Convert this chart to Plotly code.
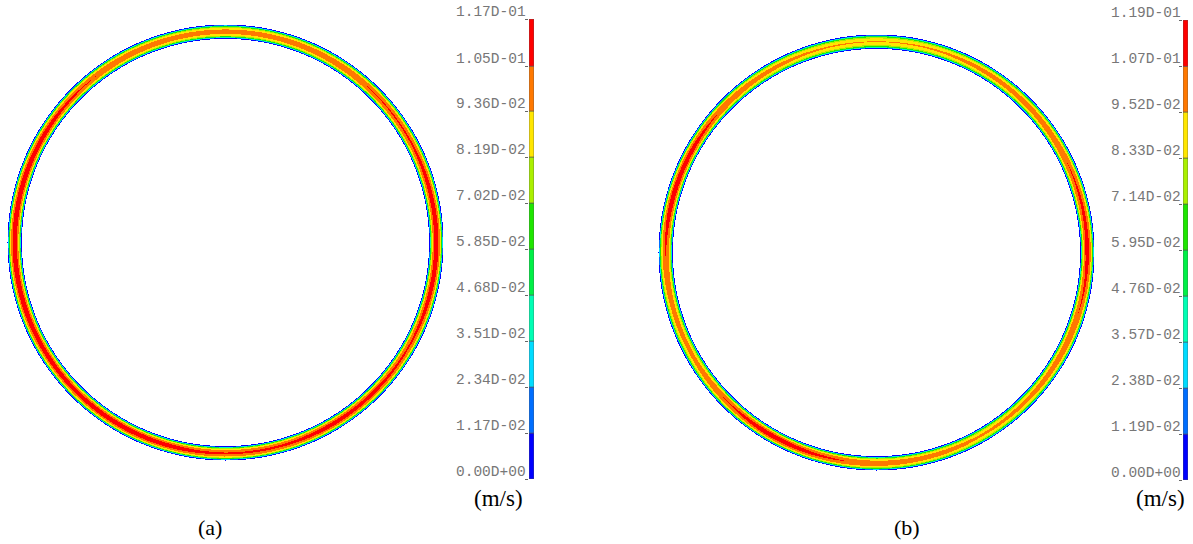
import numpy as np
import plotly.graph_objects as go

# ---------------- data ----------------
levels_a = [0.0, 0.0117, 0.0234, 0.0351, 0.0468, 0.0585, 0.0702, 0.0819, 0.0936, 0.105, 0.117]
labels_a = ["0.00D+00", "1.17D-02", "2.34D-02", "3.51D-02", "4.68D-02", "5.85D-02",
            "7.02D-02", "8.19D-02", "9.36D-02", "1.05D-01", "1.17D-01"]
levels_b = [0.0, 0.0119, 0.0238, 0.0357, 0.0476, 0.0595, 0.0714, 0.0833, 0.0952, 0.107, 0.119]
labels_b = ["0.00D+00", "1.19D-02", "2.38D-02", "3.57D-02", "4.76D-02", "5.95D-02",
            "7.14D-02", "8.33D-02", "9.52D-02", "1.07D-01", "1.19D-01"]
band_colors = ["rgb(0,0,255)", "rgb(0,110,255)", "rgb(0,220,255)", "rgb(0,255,180)",
               "rgb(0,240,70)", "rgb(30,230,0)", "rgb(170,240,0)", "rgb(255,230,0)",
               "rgb(255,120,0)", "rgb(255,0,0)"]

# peak (mid-gap) velocity around the ring, angle in degrees CCW from +x
theta_deg = [0, 15, 30, 45, 60, 75, 90, 105, 120, 135, 150, 165,
             180, 195, 210, 225, 240, 255, 270, 285, 300, 315, 330, 345]
peak_a = [0.112, 0.110, 0.107, 0.106, 0.103, 0.101, 0.100, 0.101, 0.103, 0.107, 0.111, 0.112,
          0.112, 0.112, 0.111, 0.110, 0.112, 0.110, 0.107, 0.108, 0.110, 0.109, 0.107, 0.110]
peak_b = [0.112, 0.110, 0.106, 0.102, 0.100, 0.097, 0.096, 0.097, 0.100, 0.106, 0.112, 0.114,
          0.108, 0.102, 0.100, 0.108, 0.114, 0.110, 0.104, 0.102, 0.098, 0.100, 0.104, 0.108]

# velocity profile across the annular gap (0 = inner wall, 1 = outer wall), fraction of peak
gap_pos = [0, 0.05, 0.08, 0.12, 0.17, 0.22, 0.29, 0.37, 0.5, 0.63, 0.71, 0.78, 0.83, 0.88, 0.92, 0.95, 1.0]
gap_frac = [0, 0.12, 0.30, 0.52, 0.70, 0.80, 0.89, 0.955, 1.0, 0.955, 0.89, 0.80, 0.70, 0.52, 0.30, 0.12, 0]
R_in, R_out = 0.934, 1.0

W, H = 1193, 544
PX = 218.0  # pixels per unit radius
HALF = 225 / PX


def ring_field(peak):
    g = np.arange(-HALF, HALF + 1e-9, 1 / PX)
    X, Y = np.meshgrid(g, g)
    R = np.hypot(X, Y)
    T = np.degrees(np.arctan2(Y, X)) % 360
    th = np.array(theta_deg + [360], dtype=float)
    pk = np.array(peak + [peak[0]], dtype=float)
    P = np.interp(T, th, pk)
    S = (R - R_in) / (R_out - R_in)
    F = np.interp(S, gap_pos, gap_frac)
    Z = np.where((S >= 0) & (S <= 1), P * F, np.nan)
    return g, Z


def discrete_scale(levels):
    top = levels[-1]
    cs = []
    for i, c in enumerate(band_colors):
        cs.append([levels[i] / top, c])
        cs.append([levels[i + 1] / top, c])
    return cs


fig = go.Figure()

for k, (peak, levels) in enumerate([(peak_a, levels_a), (peak_b, levels_b)]):
    g, Z = ring_field(peak)
    ax = "" if k == 0 else "2"
    fig.add_trace(go.Heatmap(x=g, y=g, z=Z, zmin=0, zmax=levels[-1],
                             colorscale=discrete_scale(levels), showscale=False,
                             zsmooth=False, hoverinfo="skip",
                             xaxis="x" + ax, yaxis="y" + ax))

# colour legend bars
for k, levels in enumerate([levels_a, levels_b]):
    ax = str(k + 3)
    fig.add_trace(go.Bar(x=[0] * 10, y=list(np.diff(levels)), base=levels[:-1],
                         width=1, marker=dict(color=band_colors, line=dict(color="#555", width=0.6)),
                         hoverinfo="skip", xaxis="x" + ax, yaxis="y" + ax, showlegend=False))


def pxx(x):
    return x / W


def pyy(y_top):
    return (H - y_top) / H


hidden = dict(visible=False, showgrid=False, zeroline=False)
rng = [-HALF, HALF]
ca, cb = (225, 242), (876, 252)
fig.update_layout(
    width=W, height=H, margin=dict(l=0, r=0, t=0, b=0),
    paper_bgcolor="white", plot_bgcolor="white", barmode="overlay", showlegend=False,
    xaxis=dict(domain=[pxx(ca[0] - 225), pxx(ca[0] + 225)], range=rng, **hidden),
    yaxis=dict(domain=[pyy(ca[1] + 225), pyy(ca[1] - 225)], range=rng, **hidden),
    xaxis2=dict(domain=[pxx(cb[0] - 225), pxx(cb[0] + 225)], range=rng, **hidden),
    yaxis2=dict(domain=[pyy(cb[1] + 225), pyy(cb[1] - 225)], range=rng, **hidden),
    xaxis3=dict(domain=[pxx(529), pxx(534)], range=[-0.5, 0.5], **hidden),
    yaxis3=dict(domain=[pyy(479), pyy(19)], range=[0, levels_a[-1]], anchor="x3",
                tickvals=levels_a, ticks="outside", ticklen=3, tickcolor="#666",
                showticklabels=False, showgrid=False, zeroline=False, showline=False),
    xaxis4=dict(domain=[pxx(1183), pxx(1188)], range=[-0.5, 0.5], **hidden),
    yaxis4=dict(domain=[pyy(480), pyy(20)], range=[0, levels_b[-1]], anchor="x4",
                tickvals=levels_b, ticks="outside", ticklen=3, tickcolor="#666",
                showticklabels=False, showgrid=False, zeroline=False, showline=False),
)

ann = []
for levels, labels, xr, yref in [(levels_a, labels_a, 527, "y3"), (levels_b, labels_b, 1182, "y4")]:
    for v, t in zip(levels, labels):
        ann.append(dict(x=pxx(xr), xref="paper", y=v, yref=yref, text=t, showarrow=False,
                        xanchor="right", yanchor="bottom", yshift=-2, borderpad=0,
                        font=dict(family="Liberation Mono", size=14.5, color="#777")))
for x, t in [(498, "(m/s)"), (1160, "(m/s)")]:
    ann.append(dict(x=pxx(x), xref="paper", y=pyy(498), yref="paper", text=t, showarrow=False,
                    xanchor="center", yanchor="middle",
                    font=dict(family="Liberation Serif", size=23, color="black")))
for x, t in [(210, "(a)"), (907, "(b)")]:
    ann.append(dict(x=pxx(x), xref="paper", y=pyy(527), yref="paper", text=t, showarrow=False,
                    xanchor="center", yanchor="middle",
                    font=dict(family="Liberation Serif", size=22, color="black")))
fig.update_layout(annotations=ann)

fig.write_html("out.html", config={"displayModeBar": False},
               post_script="document.body.style.margin='0';document.body.style.overflow='hidden';")
